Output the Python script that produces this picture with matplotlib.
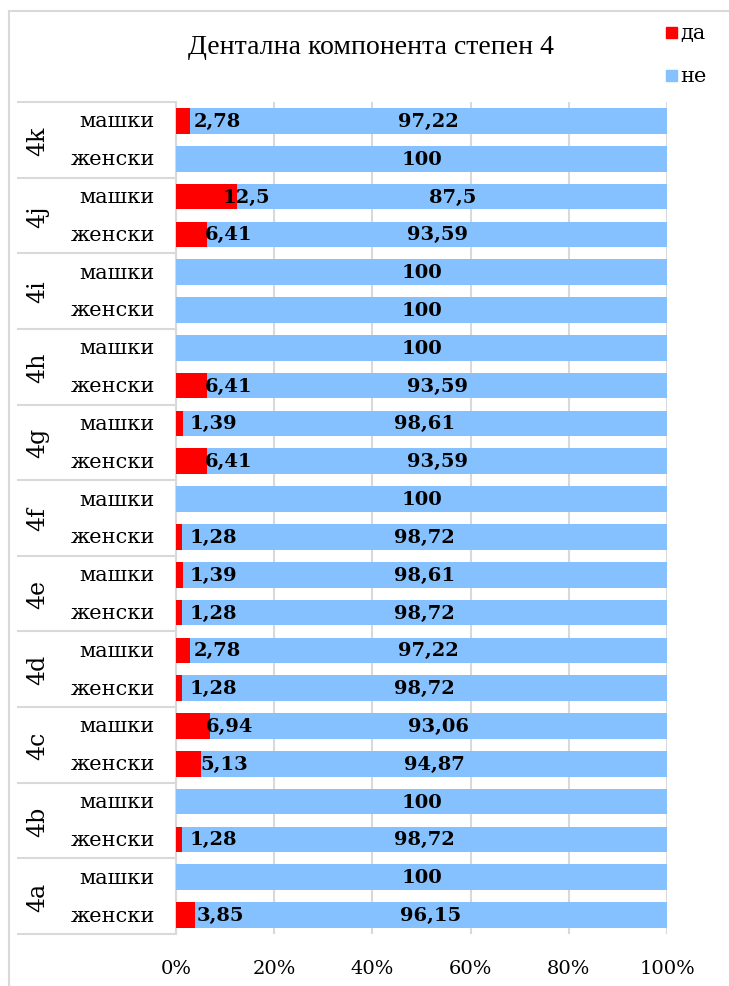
import matplotlib
matplotlib.use("Agg")
import matplotlib.pyplot as plt
from matplotlib.lines import Line2D
from matplotlib.patches import Rectangle

# Groups listed from bottom (4a) to top (4k); each group has женски then машки
groups = ["4a", "4b", "4c", "4d", "4e", "4f", "4g", "4h", "4i", "4j", "4k"]
sexes = ["женски", "машки"]

# "да" share per bar, same order (bottom to top)
da = [3.85, 0,      # 4a
      1.28, 0,      # 4b
      5.13, 6.94,   # 4c
      1.28, 2.78,   # 4d
      1.28, 1.39,   # 4e
      1.28, 0,      # 4f
      6.41, 1.39,   # 4g
      6.41, 0,      # 4h
      0, 0,         # 4i
      6.41, 12.5,   # 4j
      0, 2.78]      # 4k
ne = [96.15, 100,
      98.72, 100,
      94.87, 93.06,
      98.72, 97.22,
      98.72, 98.61,
      98.72, 100,
      93.59, 98.61,
      93.59, 100,
      100, 100,
      93.59, 87.5,
      100, 97.22]

title = "Дентална компонента степен 4"
RED = "#ff0000"
BLUE = "#85c1ff"
GRID = "#d9d9d9"
SERIF = "DejaVu Serif"
TITLE_FONT = "Liberation Serif"

fig = plt.figure(figsize=(7.29, 9.87), dpi=100)
ax = fig.add_axes([176 / 729, 1 - 935 / 987, 491 / 729, 832 / 987])

n = len(da)
ypos = list(range(n))
ax.barh(ypos, da, height=0.68, color=RED, zorder=3)
ax.barh(ypos, ne, left=da, height=0.68, color=BLUE, zorder=3)

ax.set_xlim(0, 100)
ax.set_ylim(-0.5, n - 0.5)
ax.set_xticks(range(0, 101, 20))
ax.set_xticklabels([f"{v}%" for v in range(0, 101, 20)], fontfamily=SERIF,
                   fontsize=14)
ax.tick_params(axis="x", length=0, pad=18)
ax.set_yticks([])
for s in ax.spines.values():
    s.set_visible(False)
ax.grid(axis="x", color=GRID, linewidth=1.5, zorder=0)
ax.spines["left"].set_visible(True)
ax.spines["left"].set_color(GRID)
ax.spines["left"].set_linewidth(1.5)

# value labels
for y, r, b in zip(ypos, da, ne):
    if r > 0:
        ax.text(r * 0.6 + 6.8, y, f"{r:g}".replace(".", ","), ha="center",
                va="center", fontsize=14, fontweight="bold",
                fontfamily=SERIF, zorder=4)
    ax.text(r + b / 2, y, f"{b:g}".replace(".", ","), ha="center",
            va="center", fontsize=14, fontweight="bold",
            fontfamily=SERIF, zorder=4)

# two-level category axis on the left
tr = ax.get_yaxis_transform()
x_left = (18 - 176) / 491
for g_i, g in enumerate(groups):
    lo = g_i * 2 - 0.5
    ax.add_line(Line2D([x_left, 0], [lo, lo], transform=tr, color=GRID,
                       linewidth=1.5, clip_on=False))
    ax.text((38 - 176) / 491, lo + 1, g, transform=tr, rotation=90,
            ha="center", va="center", fontsize=17, fontfamily=SERIF)
    for k, s in enumerate(sexes):
        ax.text((155 - 176) / 491, lo + 0.5 + k, s, transform=tr,
                ha="right", va="center", fontsize=15, fontfamily=SERIF)
top = n - 0.5
ax.add_line(Line2D([x_left, 0], [top, top], transform=tr, color=GRID,
                   linewidth=1.5, clip_on=False))

fig.text(371 / 729, 1 - 47 / 987, title, ha="center", va="center",
         fontsize=20, fontfamily=TITLE_FONT)

# legend
for i, (lab, col) in enumerate([("да", RED), ("не", BLUE)]):
    yc = 33 + i * 43
    fig.patches.append(Rectangle((666 / 729, 1 - (yc + 6) / 987), 11 / 729,
                                 11 / 987, transform=fig.transFigure,
                                 color=col))
    fig.text(680 / 729, 1 - yc / 987, lab, ha="left", va="center",
             fontsize=15, fontfamily=SERIF)

# chart frame
fig.add_artist(Line2D([9 / 729, 9 / 729], [0, 1 - 12 / 987],
                      transform=fig.transFigure, color=GRID, linewidth=1.5))
fig.add_artist(Line2D([9 / 729, 1], [1 - 12 / 987, 1 - 12 / 987],
                      transform=fig.transFigure, color=GRID, linewidth=1.5))

fig.savefig("out.png", dpi=100, facecolor="white")
